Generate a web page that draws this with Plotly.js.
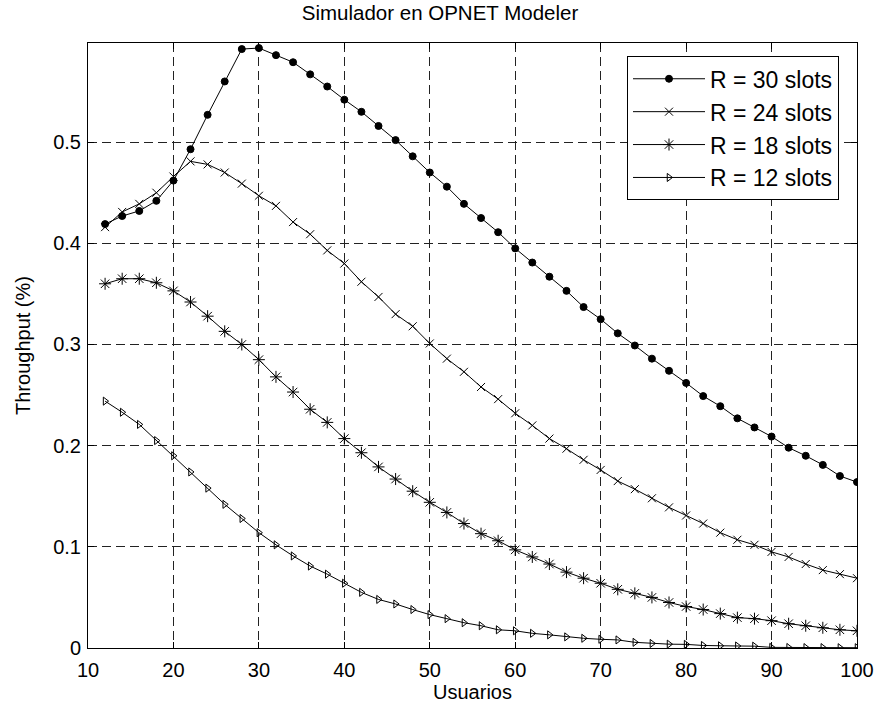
<!DOCTYPE html>
<html>
<head>
<meta charset="utf-8">
<script src="https://cdn.plot.ly/plotly-3.0.1.min.js"></script>
<style>html,body{margin:0;padding:0;background:#fff;}#chart{width:880px;height:713px;}</style>
</head>
<body>
<div id="chart"></div>
<script>
var usuarios = [12,14,16,18,20,22,24,26,28,30,32,34,36,38,40,42,44,46,48,50,52,54,56,58,60,62,64,66,68,70,72,74,76,78,80,82,84,86,88,90,92,94,96,98,100];

var r30 = [0.419,0.427,0.432,0.442,0.462,0.493,0.527,0.560,0.592,0.593,0.586,0.579,0.567,0.555,0.542,0.530,0.516,0.502,0.486,0.470,0.456,0.439,0.425,0.411,0.395,0.381,0.367,0.353,0.337,0.325,0.311,0.299,0.286,0.274,0.262,0.249,0.239,0.227,0.218,0.209,0.198,0.190,0.181,0.170,0.164];

var r24 = [0.416,0.431,0.439,0.450,0.466,0.481,0.478,0.470,0.459,0.447,0.437,0.421,0.409,0.393,0.380,0.362,0.347,0.330,0.318,0.301,0.286,0.273,0.258,0.246,0.232,0.220,0.207,0.197,0.186,0.176,0.165,0.157,0.148,0.139,0.131,0.123,0.114,0.107,0.102,0.095,0.090,0.083,0.077,0.073,0.069];

var r18 = [0.360,0.365,0.365,0.361,0.353,0.342,0.328,0.313,0.300,0.285,0.268,0.253,0.236,0.223,0.207,0.193,0.179,0.167,0.155,0.144,0.134,0.123,0.113,0.106,0.097,0.090,0.083,0.075,0.069,0.064,0.058,0.054,0.050,0.045,0.041,0.038,0.034,0.030,0.029,0.027,0.024,0.022,0.020,0.018,0.017];

var r12 = [0.244,0.233,0.221,0.205,0.190,0.174,0.158,0.142,0.128,0.114,0.102,0.091,0.081,0.073,0.064,0.055,0.048,0.0435,0.038,0.033,0.029,0.025,0.022,0.018,0.017,0.0145,0.013,0.011,0.0096,0.0086,0.008,0.0056,0.0045,0.0038,0.0036,0.0025,0.0022,0.002,0.0018,0.0006,0.0005,0.0004,0.0004,0.0003,0.0003];

var seriesNames = ['R = 30 slots','R = 24 slots','R = 18 slots','R = 12 slots'];
var xTicks = [10,20,30,40,50,60,70,80,90,100];
var yTicks = [0,0.1,0.2,0.3,0.4,0.5];

var font = 'Liberation Sans, Arial, sans-serif';

function tr(y, name, sym, size) {
  return {
    x: usuarios, y: y, name: name, type: 'scatter', mode: 'lines+markers',
    line: {color: '#000', width: 1},
    marker: {symbol: sym, size: size, color: '#000', line: {color: '#000', width: 1}}
  };
}

var data = [
  tr(r30, seriesNames[0], 'circle', 7),
  tr(r24, seriesNames[1], 'x-thin-open', 8),
  tr(r18, seriesNames[2], 'asterisk-open', 10),
  tr(r12, seriesNames[3], 'triangle-right-open', 7)
];

var axisCommon = {
  showline: true, linecolor: '#000', linewidth: 1, mirror: 'ticks',
  ticks: 'inside', ticklen: 6, tickcolor: '#000', tickwidth: 1,
  showgrid: true, gridcolor: '#222', gridwidth: 1, griddash: '9px,5px',
  zeroline: false,
  tickfont: {family: font, size: 20, color: '#000'}
};

var layout = {
  width: 880, height: 713,
  margin: {l: 88, r: 23, t: 43, b: 65},
  paper_bgcolor: '#fff', plot_bgcolor: '#fff',
  font: {family: font, color: '#000'},
  title: {text: 'Simulador en OPNET Modeler', font: {family: font, size: 20.5, color: '#000'}, x: 0.5, xanchor: 'center', y: 0.982, yanchor: 'middle'},
  xaxis: Object.assign({}, axisCommon, {
    range: [10, 100], tickvals: xTicks, ticktext: xTicks.map(String),
    ticklabelstandoff: 4,
    title: {text: 'Usuarios', font: {family: font, size: 20, color: '#000'}, standoff: 2}
  }),
  yaxis: Object.assign({}, axisCommon, {
    range: [0, 0.598], tickvals: yTicks, ticktext: yTicks.map(String),
    ticklabelstandoff: 2,
    title: {text: 'Throughput (%)', font: {family: font, size: 20, color: '#000'}, standoff: 17}
  }),
  showlegend: true,
  legend: {
    x: 0.9766, xanchor: 'right', y: 0.978, yanchor: 'top',
    bgcolor: '#fff', bordercolor: '#000', borderwidth: 1,
    font: {family: font, size: 23, color: '#000'},
    itemwidth: 72, tracegroupgap: 0
  }
};

Plotly.newPlot('chart', data, layout, {displayModeBar: false, staticPlot: true});
</script>
</body>
</html>
